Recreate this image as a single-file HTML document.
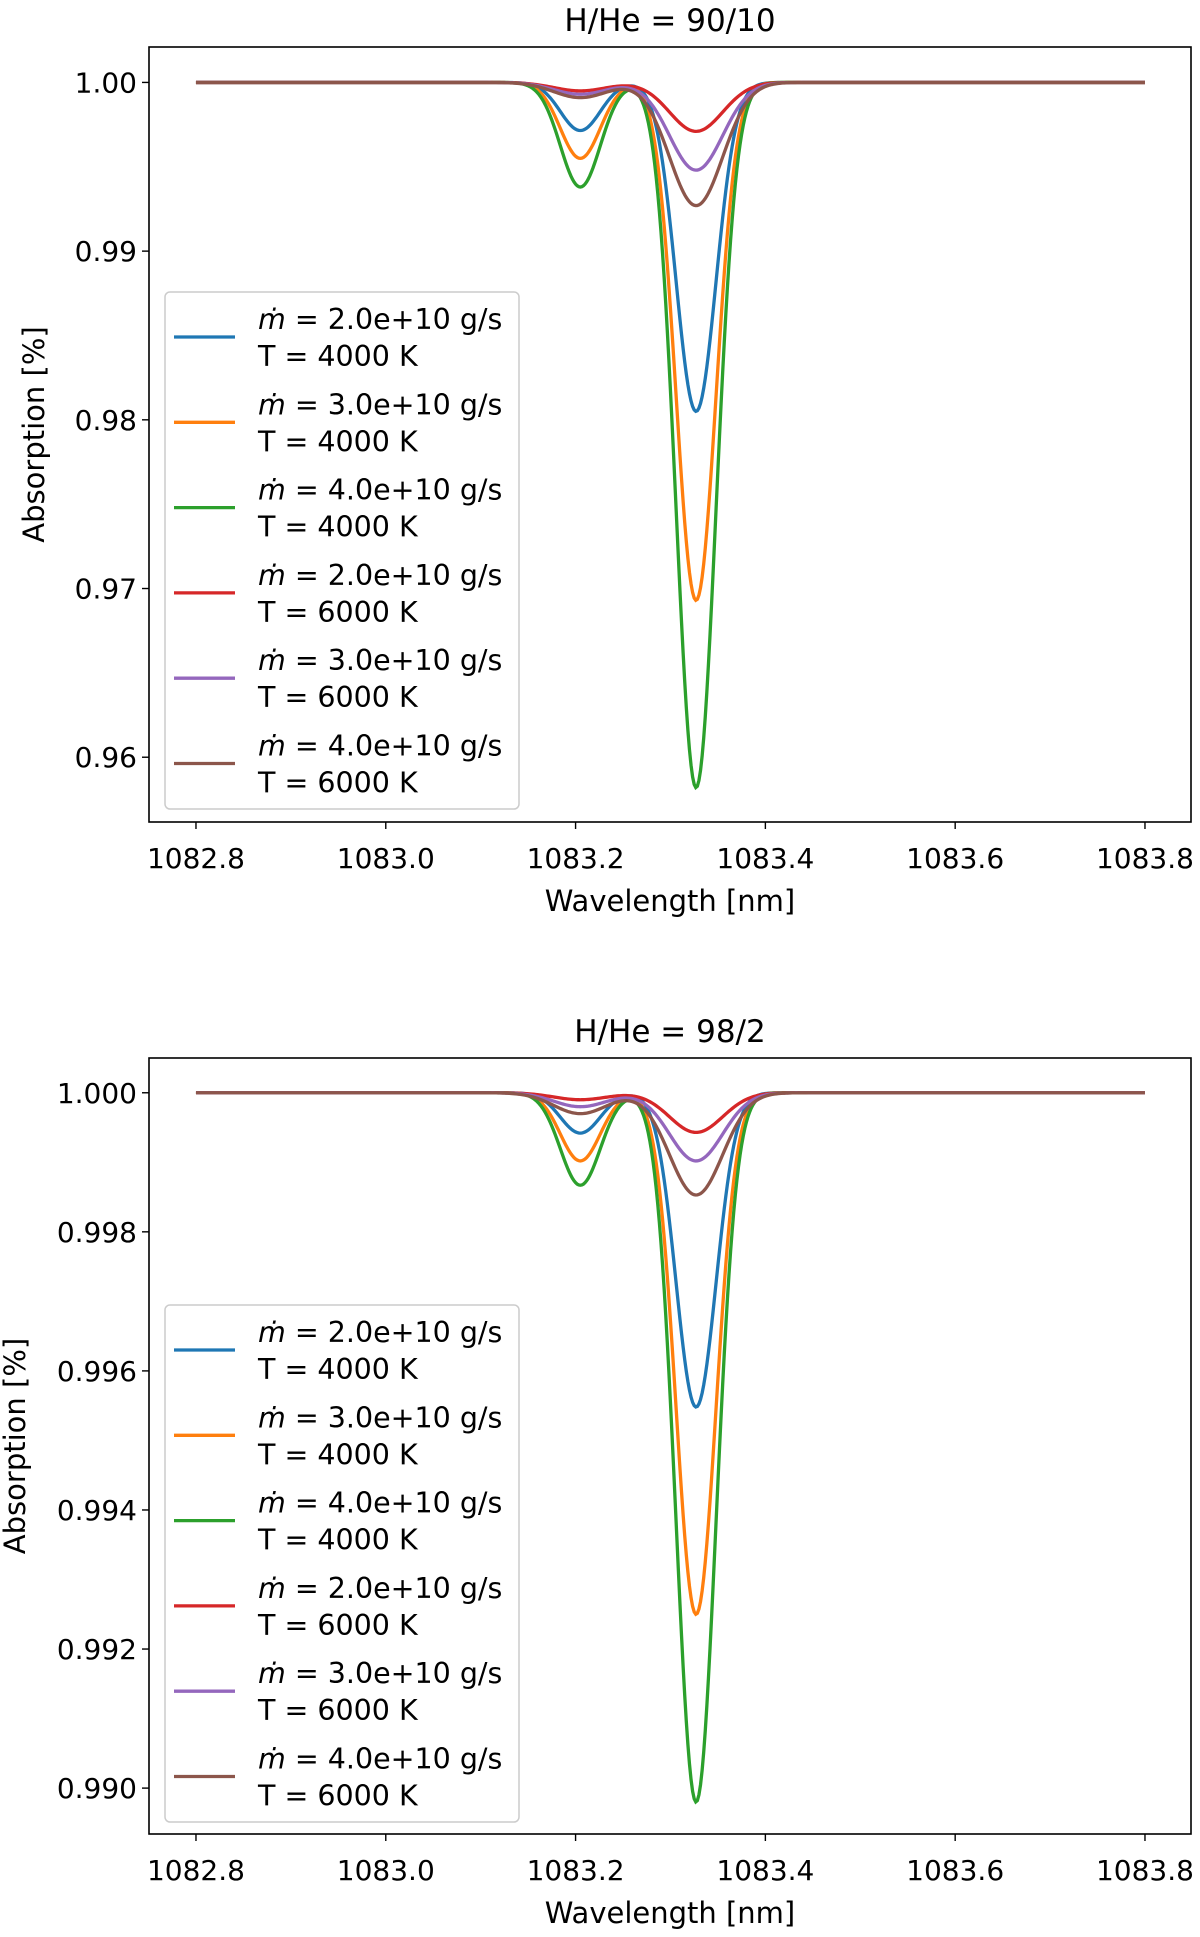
<!DOCTYPE html>
<html><head><meta charset="utf-8"><style>
body{margin:0;background:#fff;}
svg text{font-family:"DejaVu Sans","Liberation Sans",sans-serif;fill:#000;}
</style></head><body>
<svg id="fig" width="1200" height="1932" viewBox="0 0 1200 1932" xmlns="http://www.w3.org/2000/svg"></svg>
<script>
const seriesNames = ["2.0e+10 g/s|4000","3.0e+10 g/s|4000","4.0e+10 g/s|4000","2.0e+10 g/s|6000","3.0e+10 g/s|6000","4.0e+10 g/s|6000"];
const colors = ["#1f77b4","#ff7f0e","#2ca02c","#d62728","#9467bd","#8c564b"];
const widths = [0.021,0.021,0.021,0.028,0.028,0.028];
const topSmallDepth = [0.00285,0.0045,0.0062,0.0005,0.0007,0.0009];
const topMainDepth = [0.0195,0.0307,0.0418,0.0029,0.0052,0.0073];
const botSmallDepth = [0.00058,0.00098,0.00133,0.0001,0.0002,0.0003];
const botMainDepth = [0.00452,0.0075,0.0102,0.00057,0.00098,0.00147];
const lineCenters = [1083.205,1083.327];
const xTicks = [1082.8,1083.0,1083.2,1083.4,1083.6,1083.8];
const topYTicks = [1.00,0.99,0.98,0.97,0.96];
const botYTicks = [1.000,0.998,0.996,0.994,0.992,0.990];

const NS="http://www.w3.org/2000/svg";
const svg=document.getElementById('fig');
function mk(tag,attrs,parent,text){const e=document.createElementNS(NS,tag);for(const k in attrs)e.setAttribute(k,attrs[k]);if(text!==undefined)e.textContent=text;(parent||svg).appendChild(e);return e;}

function panel(cfg){
  const g=mk('g',{});
  
  
  const L=149,R=1191,T=cfg.top,B=cfg.bottom;
  const xmin=1082.7505,xmax=1083.8485;
  const X=v=>L+(v-xmin)/(xmax-xmin)*(R-L);
  const Y=v=>T+(cfg.ymax-v)/(cfg.ymax-cfg.ymin)*(B-T);
  const title=mk('text',{x:(L+R)/2,y:T-16,'font-size':31,'text-anchor':'middle'},g,cfg.title);
  
  
  for(let s=0;s<6;s++){
    let d='';
    for(let i=0;i<=600;i++){
      const w=1082.8+i/600;
      const sig=widths[s];
      const v=1-cfg.small[s]*Math.exp(-0.5*((w-lineCenters[0])/sig)**2)-cfg.main[s]*Math.exp(-0.5*((w-lineCenters[1])/sig)**2);
      d+=(i?'L':'M')+X(w).toFixed(2)+','+Y(v).toFixed(2);
    }
    const p=mk('path',{d:d,fill:'none',stroke:colors[s],'stroke-width':3.3},g);
    
    
  }
  const fr=mk('rect',{x:L,y:T,width:R-L,height:B-T,fill:'none',stroke:'#000','stroke-width':1.6},g);
  
  
  xTicks.forEach(t=>{
    mk('line',{x1:X(t),x2:X(t),y1:B,y2:B+7,stroke:'#000','stroke-width':1.4},g);
    const tx=mk('text',{x:X(t),y:B+46,'font-size':28,'text-anchor':'middle'},g,t.toFixed(1));
    
    
  });
  cfg.yticks.forEach(t=>{
    mk('line',{x1:L-7,x2:L,y1:Y(t),y2:Y(t),stroke:'#000','stroke-width':1.4},g);
    const ty=mk('text',{x:L-12,y:Y(t)+10,'font-size':28,'text-anchor':'end'},g,t.toFixed(cfg.dec));
    
    
  });
  const xl=mk('text',{x:(L+R)/2,y:B+89,'font-size':29,'text-anchor':'middle'},g,'Wavelength [nm]');
  
  
  const yl=mk('text',{x:0,y:0,'font-size':29,'text-anchor':'middle',transform:`translate(${cfg.ylx},${(T+B)/2}) rotate(-90)`},g,'Absorption [%]');
  
  
  const lg=mk('g',{},g);
  
  
  mk('rect',{x:165,y:cfg.legTop,width:354,height:517,rx:5,fill:'#fff','fill-opacity':0.8,stroke:'#ccc','stroke-width':1.5},lg);
  for(let s=0;s<6;s++){
    const yy=cfg.legTop+45+s*85.3;
    const le=mk('g',{},lg);
    
    
    mk('line',{x1:174,x2:235,y1:yy,y2:yy,stroke:colors[s],'stroke-width':3.3},le);
    const parts=seriesNames[s].split('|');
    const t1=mk('text',{x:258,y:yy-8,'font-size':28.5},le);
    mk('tspan',{'font-style':'italic'},t1,'ṁ');
    mk('tspan',{},t1,' = '+parts[0]);
    mk('text',{x:258,y:yy+29,'font-size':28.5},le,'T = '+parts[1]+' K');
  }
}
panel({name:'panel-90-10',title:'H/He = 90/10',top:47,bottom:822,ymax:1.0021,ymin:0.95616,small:topSmallDepth,main:topMainDepth,yticks:topYTicks,dec:2,ylx:44,legTop:292});
panel({name:'panel-98-2',title:'H/He = 98/2',top:1058,bottom:1834,ymax:1.0005,ymin:0.98934,small:botSmallDepth,main:botMainDepth,yticks:botYTicks,dec:3,ylx:25,legTop:1305});
</script>
</body></html>
